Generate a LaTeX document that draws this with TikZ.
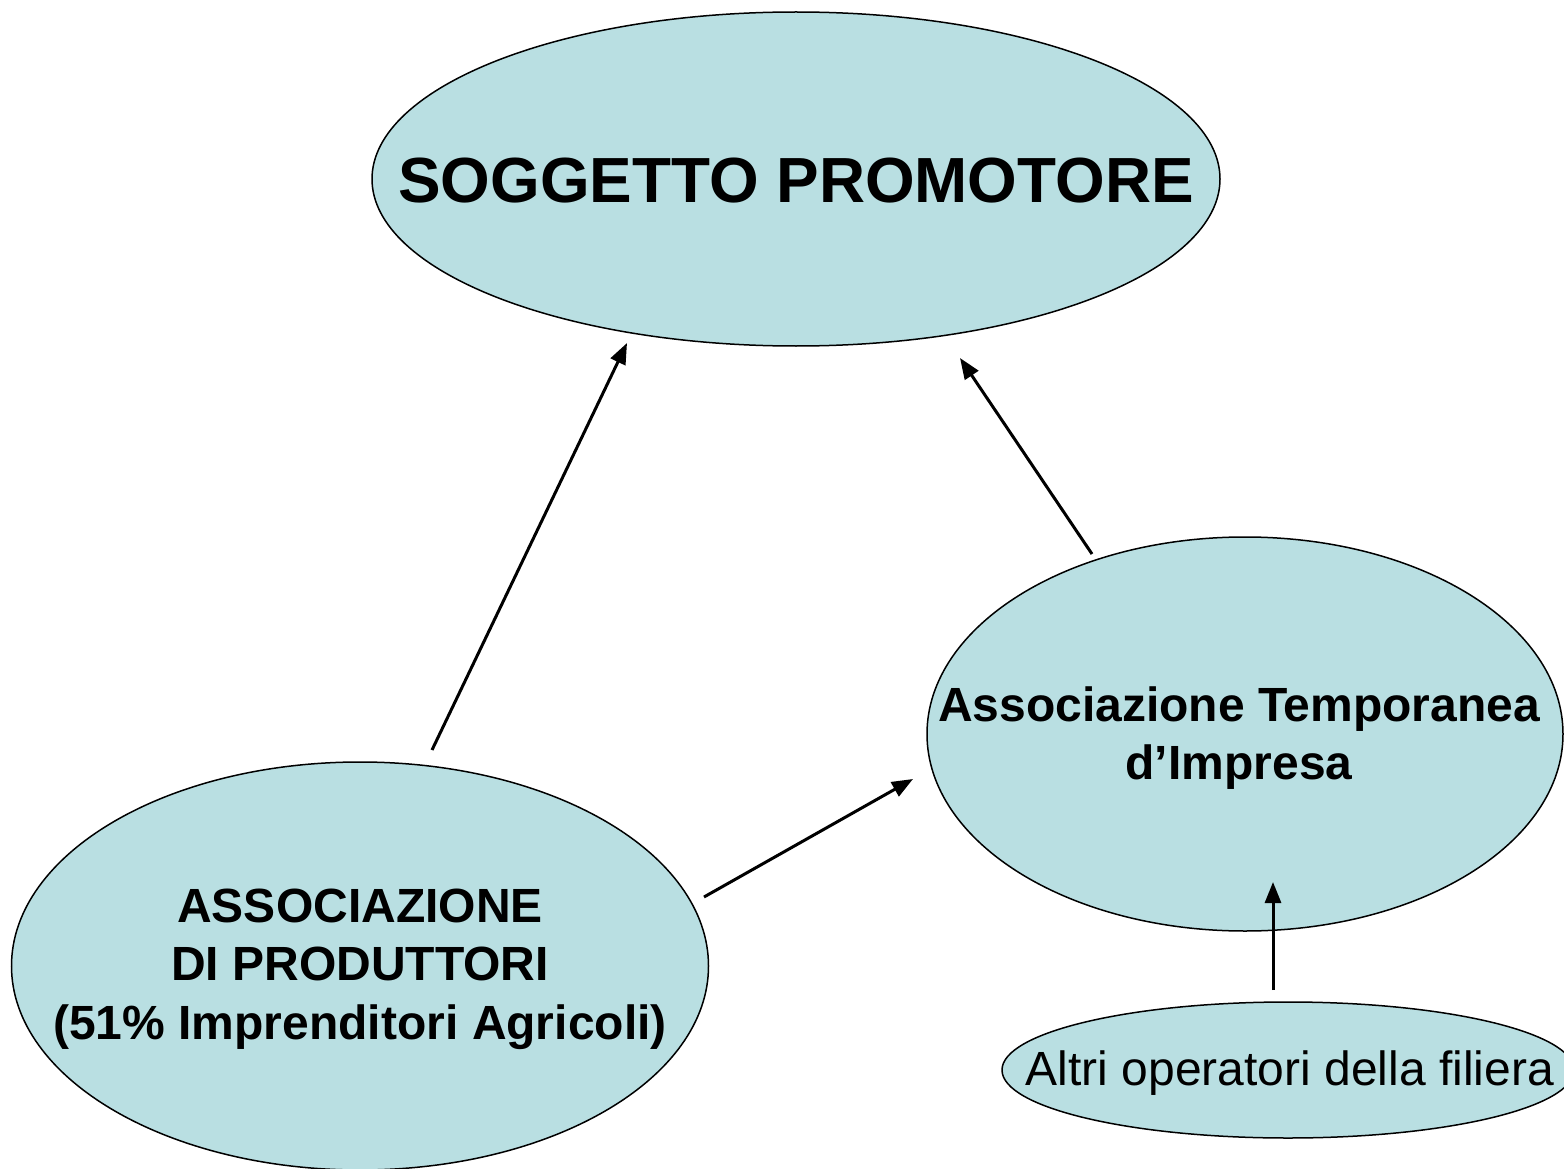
\documentclass[tikz,border=0pt]{standalone}
\usepackage{fontspec}
\setmainfont{Liberation Sans}
\usetikzlibrary{shapes.geometric,arrows.meta}
\definecolor{fillblue}{HTML}{B9DFE2}
\tikzset{
  bubble/.style={ellipse, draw=black, line width=1.5pt, fill=fillblue, inner sep=0pt},
  label/.style={inner sep=0pt, align=center},
  conn/.style={line width=3pt, -{Triangle[length=21pt,width=16pt]}},
}
\begin{document}
\begin{tikzpicture}[x=1pt,y=-1pt]
\useasboundingbox (0,0) rectangle (1564,1169);
\clip (0,0) rectangle (1564,1169);
\node[bubble, minimum width=848pt, minimum height=334pt] (top) at (796,179) {};
\node[bubble, minimum width=636pt, minimum height=394pt] (ati) at (1245,734) {};
\node[bubble, minimum width=697pt, minimum height=408pt] (ap) at (360,966) {};
\node[bubble, minimum width=572pt, minimum height=136pt] (altri) at (1288,1070) {};
\node[label, font=\fontsize{63.8}{72}\selectfont\bfseries] (topt) at (796,181) {SOGGETTO PROMOTORE};
\node[label, font=\fontsize{48}{58}\selectfont\bfseries] (atit) at (1239,738) {Associazione Temporanea\\d’Impresa};
\node[label, font=\fontsize{48}{58.5}\selectfont\bfseries] (apt) at (360,969) {ASSOCIAZIONE\\DI PRODUTTORI\\(51\% Imprenditori Agricoli)};
\node[label, font=\fontsize{48}{57}\selectfont] (altrit) at (1290,1073) {Altri operatori della filiera};
\coordinate (a1s) at (432,750);
\coordinate (a1e) at (627,343);
\coordinate (a2s) at (1092,554);
\coordinate (a2e) at (960,358);
\coordinate (a3s) at (704,897);
\coordinate (a3e) at (913,779);
\coordinate (a4s) at (1273,990);
\coordinate (a4e) at (1273,882);
\draw[conn] (a1s) -- (a1e);
\draw[conn] (a2s) -- (a2e);
\draw[conn] (a3s) -- (a3e);
\draw[conn] (a4s) -- (a4e);
\end{tikzpicture}
\end{document}
